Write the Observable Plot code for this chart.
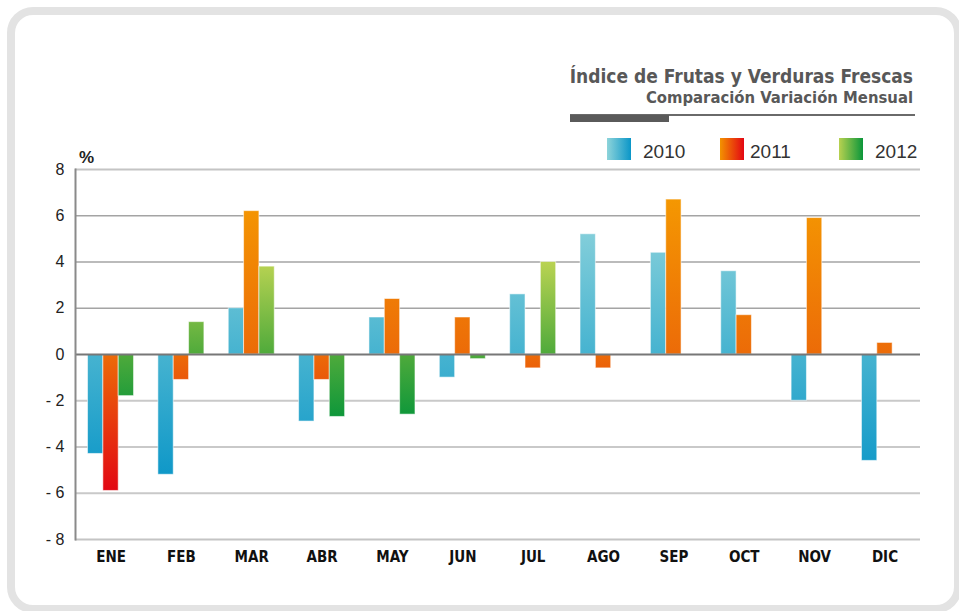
<!DOCTYPE html>
<html>
<head>
<meta charset="utf-8">
<script src="https://cdn.jsdelivr.net/npm/d3@7"></script>
<script src="https://cdn.jsdelivr.net/npm/@observablehq/plot@0.6"></script>
<style>
  html, body { margin: 0; padding: 0; background: #ffffff; }
  #wrap { position: relative; width: 959px; height: 611px; overflow: hidden; background: #fff;
          font-family: "Liberation Sans Narrow", "DejaVu Sans Condensed", "Roboto", sans-serif; }
  #panel { position: absolute; left: 7px; top: 7px; width: 939px; height: 590px;
           border: 8px solid #e3e3e3; border-radius: 26px; box-sizing: content-box; }
  .layer { position: absolute; left: 0; top: 0; }
  .title { position: absolute; right: 46px; top: 67px; font-size: 19px; font-weight: bold; color: #585858;
           white-space: nowrap; line-height: 1; }
  .subtitle { position: absolute; right: 46px; top: 90px; font-size: 16.5px; font-weight: bold; color: #585858;
           white-space: nowrap; line-height: 1; }
  .rule-thin { position: absolute; left: 570px; top: 114px; width: 345px; height: 2px; background: #6a6a6a; }
  .rule-thick { position: absolute; left: 570px; top: 115px; width: 99px; height: 7px; background: #5a5a5a; }
  .sw { position: absolute; top: 138px; width: 24px; height: 22px; }
  .lg { position: absolute; top: 142px; font-size: 19px; color: #333; font-family: "Liberation Sans", "Roboto", sans-serif; line-height: 1; }
  .pct { position: absolute; left: 79px; top: 149px; font-size: 17px; font-weight: bold; color: #222; line-height: 1;
         font-family: "Liberation Sans", "Roboto", sans-serif; }
</style>
</head>
<body>
<div id="wrap">
  <div id="panel"></div>
  <div id="bg" class="layer"></div>
  <div id="bars" class="layer"></div>
  <div id="fg" class="layer"></div>
  <div class="title">Índice de Frutas y Verduras Frescas</div>
  <div class="subtitle">Comparación Variación Mensual</div>
  <div class="rule-thin"></div>
  <div class="rule-thick"></div>
  <div id="legend"></div>
  <div class="pct">%</div>
</div>
<script>
const months = ["ENE", "FEB", "MAR", "ABR", "MAY", "JUN", "JUL", "AGO", "SEP", "OCT", "NOV", "DIC"];
const years = ["2010", "2011", "2012"];
const v2010 = [-4.3, -5.2, 2.0, -2.9, 1.6, -1.0, 2.6, 5.2, 4.4, 3.6, -2.0, -4.6];
const v2011 = [-5.9, -1.1, 6.2, -1.1, 2.4, 1.6, -0.6, -0.6, 6.7, 1.7, 5.9, 0.5];
const v2012 = [-1.8, 1.4, 3.8, -2.7, -2.6, -0.2, 4.0, null, null, null, null, null];
const yTicks = [-8, -6, -4, -2, 0, 2, 4, 6, 8];

// gradient stops per series: [value, color]
const grad2010 = [[8, "#a2dcdf"], [0, "#46b3d0"], [-6, "#0794c7"], [-8, "#0792c6"]];
const grad2011 = [[8, "#f6a000"], [0, "#ec6b08"], [-6, "#e20613"], [-8, "#e20613"]];
const grad2012 = [[8, "#bad352"], [4, "#bad352"], [0, "#4faa3b"], [-3, "#07953a"], [-8, "#07953a"]];
const swatch2010 = ["#8ed4da", "#0a96c8"];
const swatch2011 = ["#f39200", "#e30613"];
const swatch2012 = ["#b8d150", "#0a963a"];

const series = [
  {year: "2010", values: v2010, grad: grad2010, swatch: swatch2010, id: "g2010"},
  {year: "2011", values: v2011, grad: grad2011, swatch: swatch2011, id: "g2011"},
  {year: "2012", values: v2012, grad: grad2012, swatch: swatch2012, id: "g2012"}
];

const rowsFor = (s) => months.map((m, i) => ({month: m, year: s.year, value: s.values[i]}))
  .filter(d => d.value != null);

const fmt = d => d < 0 ? "- " + Math.abs(d) : String(d);

const common = {
  width: 959,
  height: 611,
  marginTop: 169,
  marginBottom: 72,
  marginLeft: 75,
  marginRight: 39,
  style: {background: "transparent", fontFamily: '"Liberation Sans", "Roboto", sans-serif', color: "#222"},
  y: {domain: [-8, 8], axis: null}
};

// background layer: grid lines and y axis
const bg = Plot.plot({
  ...common,
  marks: [
    Plot.ruleY(yTicks.filter(d => d > 0 && d < 8), {stroke: "#a4a4a4", strokeWidth: 1.5}),
    Plot.ruleY(yTicks.filter(d => d < 0 && d > -8), {stroke: "#c9c9c9", strokeWidth: 2}),
    Plot.ruleY([8, -8], {stroke: "#c4c4c4", strokeWidth: 2}),
    Plot.axisY({ticks: yTicks, tickFormat: fmt, tickSize: 0, tickPadding: 11, fontSize: 16, label: null})
  ]
});

// bar layer: grouped bars, faceted by month
const bars = Plot.plot({
  ...common,
  fx: {domain: months, paddingInner: 0.346, paddingOuter: 0.178, round: false, label: null},
  x: {domain: years, padding: 0, round: false, axis: null},
  marks: [
    ...series.map(s => Plot.barY(rowsFor(s), {
      fx: "month", x: "year", y: "value",
      fill: `url(#${s.id})`, stroke: "#ffffff", strokeOpacity: 0.55, strokeWidth: 1, inset: 0
    })),
    Plot.axisFx({anchor: "bottom", tickSize: 0, tickPadding: 12, fontSize: 15, fontWeight: "bold", label: null,
                 fontFamily: '"Liberation Sans Narrow", "DejaVu Sans Condensed", sans-serif', fill: "#111"})
  ]
});

// foreground layer: zero line and left axis line
const fg = Plot.plot({
  ...common,
  marks: [
    Plot.ruleY([0], {stroke: "#777777", strokeWidth: 2}),
    Plot.frame({anchor: "left", stroke: "#8a8a8a", strokeWidth: 2})
  ]
});

// gradients in the plot's own coordinate system, from the y scale
const yScale = bars.scale("y");
const yTop = yScale.apply(8), yBot = yScale.apply(-8);
const defs = d3.select(bars).insert("defs", ":first-child");
for (const s of series) {
  const g = defs.append("linearGradient").attr("id", s.id)
    .attr("gradientUnits", "userSpaceOnUse")
    .attr("x1", 0).attr("x2", 0).attr("y1", yTop).attr("y2", yBot);
  for (const [v, c] of s.grad) {
    g.append("stop").attr("offset", (8 - v) / 16).attr("stop-color", c);
  }
}
document.getElementById("bg").appendChild(bg);
document.getElementById("bars").appendChild(bars);
document.getElementById("fg").appendChild(fg);

// legend
const legendPos = [{sw: 607, tx: 643}, {sw: 720, tx: 750}, {sw: 839, tx: 875}];
const legend = document.getElementById("legend");
series.forEach((s, i) => {
  const sw = document.createElement("div");
  sw.className = "sw";
  sw.style.left = legendPos[i].sw + "px";
  sw.style.background = `linear-gradient(to right, ${s.swatch[0]}, ${s.swatch[1]})`;
  legend.appendChild(sw);
  const t = document.createElement("div");
  t.className = "lg";
  t.style.left = legendPos[i].tx + "px";
  t.textContent = s.year;
  legend.appendChild(t);
});
</script>
</body>
</html>
